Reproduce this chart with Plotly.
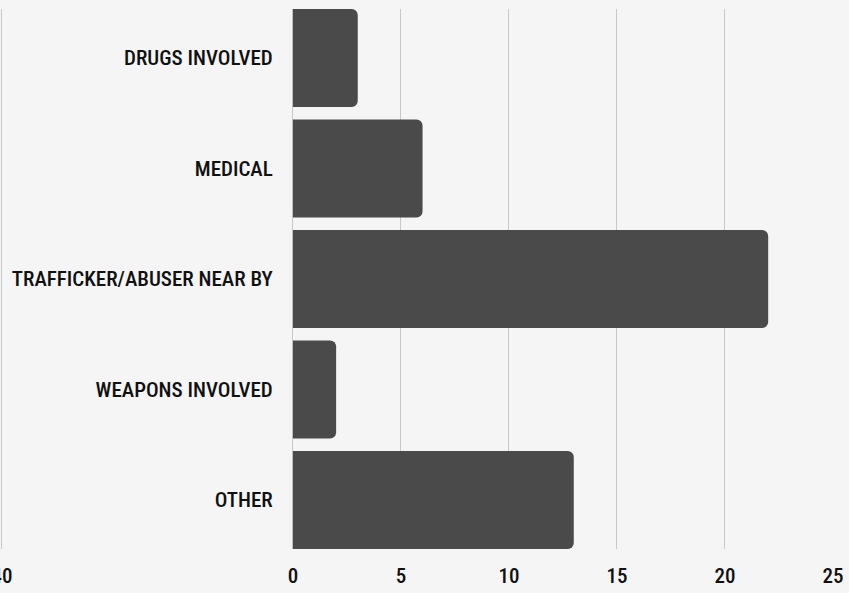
import plotly.graph_objects as go

categories = ["DRUGS INVOLVED", "MEDICAL", "TRAFFICKER/ABUSER NEAR BY", "WEAPONS INVOLVED", "OTHER"]
values = [3, 6, 22, 2, 13]
tick_vals = [-13.47, 0, 5, 10, 15, 20, 25]
tick_text = ["40", "0", "5", "10", "15", "20", "25"]

FONT = "Roboto Condensed, Open Sans Condensed, sans-serif"

fig = go.Figure(go.Bar(
    x=values, y=categories, orientation="h",
    marker=dict(color="#4a4a4a", cornerradius=6, line=dict(width=0)),
    width=0.887,
))

x0, x1 = -13.56, 25
fig.update_layout(
    width=849, height=593,
    margin=dict(l=0, r=16, t=9, b=44),
    paper_bgcolor="#f5f5f5", plot_bgcolor="#f5f5f5",
    showlegend=False,
    font=dict(family=FONT, size=21, color="#111111", weight=500),
    xaxis=dict(
        range=[x0, x1], tickvals=tick_vals, ticktext=tick_text,
        showgrid=True, gridcolor="#c8c8c8", gridwidth=1,
        zeroline=False, showline=False, ticks="", ticklabelstandoff=12,
        ticklabeloverflow="allow", automargin=False,
        tickfont=dict(family=FONT, size=21, color="#111111", weight=500),
    ),
    yaxis=dict(
        categoryorder="array", categoryarray=categories,
        range=[4.4435, -0.4435],
        anchor="free", position=(0 - x0) / (x1 - x0),
        showgrid=False, zeroline=False, showline=False,
        ticks="outside", ticklen=16, tickcolor="rgba(0,0,0,0)",
        automargin=False,
        tickfont=dict(family=FONT, size=21, color="#111111", weight=500),
    ),
)

fig.write_html("out.html", config={"displayModeBar": False},
               post_script="document.body.style.margin='0';document.body.style.background='#f5f5f5';")
